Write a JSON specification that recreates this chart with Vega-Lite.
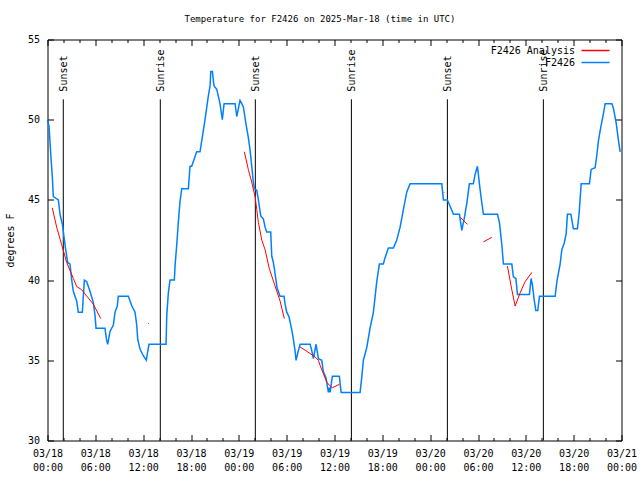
{
  "$schema": "https://vega.github.io/schema/vega-lite/v6.json",
  "width": 574,
  "height": 401,
  "autosize": "none",
  "padding": {"left": 47.5, "top": 39.5, "right": 18.5, "bottom": 39.5},
  "background": "white",
  "title": {"text": "Temperature for F2426 on 2025-Mar-18 (time in UTC)", "font": "DejaVu Sans Mono", "fontSize": 9, "fontWeight": "normal", "color": "black", "offset": 11, "dx": -14.5},
  "config": {
    "view": {"stroke": "black", "strokeWidth": 1},
    "axis": {"grid": false, "domain": false, "labelFont": "DejaVu Sans Mono", "labelFontSize": 10, "labelColor": "black", "tickColor": "black", "tickWidth": 1, "titleFont": "DejaVu Sans Mono", "titleFontSize": 10, "titleFontWeight": "normal", "titleColor": "black", "labelOverlap": false, "labelFlush": false, "labelBound": false}
  },
  "datasets": {
    "obs": [
      {"h":0,"t":50},{"h":0.19,"t":49.6},{"h":0.44,"t":47.6},{"h":0.6,"t":46.5},{"h":0.73,"t":45.2},{"h":1.36,"t":45},{"h":1.57,"t":44.1},{"h":1.86,"t":43.5},{"h":2.07,"t":42.7},{"h":2.28,"t":41.9},{"h":2.53,"t":41.1},{"h":2.82,"t":41},{"h":3.04,"t":40},{"h":3.24,"t":39.3},{"h":3.45,"t":39},{"h":3.66,"t":38.7},{"h":3.86,"t":38},{"h":4.37,"t":38},{"h":4.62,"t":40},{"h":4.92,"t":39.9},{"h":5.33,"t":39.3},{"h":5.75,"t":38.6},{"h":5.96,"t":37.8},{"h":6.09,"t":37},{"h":7.21,"t":37},{"h":7.4,"t":36.3},{"h":7.55,"t":36},{"h":7.84,"t":36.8},{"h":8.26,"t":37.2},{"h":8.47,"t":38},{"h":8.76,"t":38.4},{"h":8.88,"t":39},{"h":10.14,"t":39},{"h":10.57,"t":38.4},{"h":10.98,"t":38},{"h":11.19,"t":37.2},{"h":11.32,"t":36.3},{"h":11.6,"t":35.7},{"h":12.0,"t":35.3},{"h":12.4,"t":35},{"h":12.55,"t":35.5},{"h":12.73,"t":36},{"h":14.87,"t":36},{"h":14.96,"t":37.8},{"h":15.16,"t":39.2},{"h":15.37,"t":40},{"h":15.91,"t":40},{"h":16.0,"t":40.9},{"h":16.21,"t":42.2},{"h":16.41,"t":43.6},{"h":16.62,"t":44.9},{"h":16.84,"t":45.7},{"h":17.67,"t":45.7},{"h":17.88,"t":47.1},{"h":18.09,"t":47.1},{"h":18.51,"t":47.7},{"h":18.72,"t":48},{"h":19.13,"t":48},{"h":19.35,"t":48.7},{"h":19.76,"t":50},{"h":20.18,"t":51.5},{"h":20.39,"t":52.1},{"h":20.48,"t":53},{"h":20.68,"t":53},{"h":20.89,"t":52.1},{"h":21.23,"t":51.9},{"h":21.64,"t":51},{"h":21.93,"t":50},{"h":22.15,"t":51},{"h":23.53,"t":51},{"h":23.74,"t":50.2},{"h":24.15,"t":51.2},{"h":24.37,"t":51},{"h":24.57,"t":50.8},{"h":24.91,"t":49.7},{"h":25.19,"t":48.9},{"h":25.41,"t":48.1},{"h":25.62,"t":47.1},{"h":25.82,"t":46.1},{"h":25.95,"t":45.7},{"h":26.25,"t":45.6},{"h":26.45,"t":45},{"h":26.66,"t":44.3},{"h":26.75,"t":44},{"h":27.08,"t":43.8},{"h":27.29,"t":43.3},{"h":27.5,"t":43},{"h":28.0,"t":43},{"h":28.13,"t":41.5},{"h":28.33,"t":41.1},{"h":28.46,"t":40.7},{"h":28.8,"t":39.5},{"h":29.17,"t":39},{"h":29.67,"t":39},{"h":29.8,"t":38.5},{"h":30.01,"t":38},{"h":30.3,"t":37.7},{"h":30.64,"t":36.9},{"h":30.84,"t":36.3},{"h":31.05,"t":35.6},{"h":31.18,"t":35},{"h":31.47,"t":35.6},{"h":31.68,"t":36},{"h":32.94,"t":36},{"h":33.15,"t":35.6},{"h":33.35,"t":35.1},{"h":33.69,"t":36},{"h":33.98,"t":35.1},{"h":34.4,"t":35},{"h":34.6,"t":34.3},{"h":34.94,"t":33.9},{"h":35.23,"t":33},{"h":35.36,"t":33.3},{"h":35.45,"t":33},{"h":35.73,"t":34},{"h":36.61,"t":34},{"h":36.83,"t":33},{"h":39.21,"t":33},{"h":39.43,"t":34},{"h":39.62,"t":35},{"h":40.05,"t":35.8},{"h":40.46,"t":37},{"h":40.88,"t":38},{"h":41.3,"t":39.9},{"h":41.63,"t":41},{"h":42.13,"t":41},{"h":42.34,"t":41.4},{"h":42.76,"t":42},{"h":43.39,"t":42},{"h":43.81,"t":42.5},{"h":44.23,"t":43.3},{"h":44.64,"t":44.4},{"h":45.07,"t":45.5},{"h":45.48,"t":46},{"h":49.46,"t":46},{"h":49.66,"t":45},{"h":50.16,"t":45},{"h":50.5,"t":44.6},{"h":50.92,"t":44.1},{"h":51.67,"t":44.1},{"h":51.76,"t":43.8},{"h":51.97,"t":43.1},{"h":52.26,"t":43.8},{"h":52.6,"t":44.8},{"h":52.92,"t":46},{"h":53.42,"t":46},{"h":53.64,"t":46.6},{"h":53.93,"t":47.1},{"h":54.18,"t":46},{"h":54.35,"t":45.3},{"h":54.68,"t":44.1},{"h":56.44,"t":44.1},{"h":56.69,"t":43.6},{"h":56.99,"t":42.2},{"h":57.19,"t":41},{"h":58.24,"t":41},{"h":58.44,"t":40.2},{"h":58.75,"t":40.1},{"h":58.95,"t":39.1},{"h":60.45,"t":39.1},{"h":60.66,"t":40.1},{"h":60.83,"t":39.7},{"h":61.04,"t":38.8},{"h":61.25,"t":38.1},{"h":61.5,"t":38.1},{"h":61.71,"t":39},{"h":63.68,"t":39},{"h":63.89,"t":39.9},{"h":64.3,"t":41},{"h":64.52,"t":41.9},{"h":64.81,"t":42.3},{"h":65.06,"t":42.9},{"h":65.22,"t":44.1},{"h":65.65,"t":44.1},{"h":65.97,"t":43.2},{"h":66.47,"t":43.2},{"h":66.69,"t":44.2},{"h":66.94,"t":46},{"h":67.98,"t":46},{"h":68.19,"t":46.9},{"h":68.69,"t":47},{"h":68.91,"t":47.8},{"h":69.11,"t":48.7},{"h":69.32,"t":49.3},{"h":69.54,"t":49.9},{"h":69.74,"t":50.4},{"h":69.95,"t":51},{"h":70.79,"t":51},{"h":70.99,"t":50.7},{"h":71.33,"t":49.8},{"h":71.62,"t":48.7},{"h":71.83,"t":48}
    ],
    "ana": [
      {"seg":"a","h":0.6,"t":44.5},{"seg":"a","h":1.15,"t":43.3},{"seg":"a","h":1.78,"t":42.2},{"seg":"a","h":2.41,"t":41.1},{"seg":"a","h":3.24,"t":40.1},{"seg":"a","h":3.66,"t":39.6},{"seg":"a","h":4.29,"t":39.4},{"seg":"a","h":4.92,"t":39.0},{"seg":"a","h":5.75,"t":38.5},{"seg":"a","h":6.68,"t":37.6},
      {"seg":"b","h":12.62,"t":37.3},{"seg":"b","h":12.72,"t":37.3},
      {"seg":"c","h":24.69,"t":48},{"seg":"c","h":25.19,"t":46.9},{"seg":"c","h":25.62,"t":46.1},{"seg":"c","h":26.04,"t":45.2},{"seg":"c","h":26.25,"t":44.4},{"seg":"c","h":26.45,"t":43.6},{"seg":"c","h":26.88,"t":42.5},{"seg":"c","h":27.29,"t":41.9},{"seg":"c","h":27.83,"t":40.7},{"seg":"c","h":29.17,"t":38.7},{"seg":"c","h":29.71,"t":37.6},
      {"seg":"d","h":31.68,"t":35.83},{"seg":"d","h":32.31,"t":35.63},{"seg":"d","h":32.94,"t":35.42},{"seg":"d","h":33.56,"t":35.21},{"seg":"d","h":33.98,"t":35.0},{"seg":"d","h":34.19,"t":34.69},{"seg":"d","h":34.6,"t":34.17},{"seg":"d","h":35.03,"t":33.64},{"seg":"d","h":35.36,"t":33.44},{"seg":"d","h":35.73,"t":33.29},{"seg":"d","h":36.61,"t":33.5},
      {"seg":"e","h":49.66,"t":45.5},{"seg":"e","h":49.76,"t":45.45},
      {"seg":"f","h":51.76,"t":43.92},{"seg":"f","h":52.67,"t":43.48},
      {"seg":"g","h":54.68,"t":42.38},{"seg":"g","h":55.73,"t":42.67},
      {"seg":"h","h":57.69,"t":40.88},{"seg":"h","h":58.24,"t":39.4},{"seg":"h","h":58.66,"t":38.38},{"seg":"h","h":59.28,"t":39.2},{"seg":"h","h":59.91,"t":39.9},{"seg":"h","h":60.75,"t":40.48}
    ],
    "sun": [
      {"h":1.98,"label":"Sunset"},{"h":14.15,"label":"Sunrise"},{"h":26.07,"label":"Sunset"},{"h":38.12,"label":"Sunrise"},{"h":50.16,"label":"Sunset"},{"h":62.2,"label":"Sunrise"}
    ]
  },
  "layer": [
    {
      "data": {"name": "sun"},
      "mark": {"type": "rule", "color": "black", "strokeWidth": 1},
      "encoding": {
        "x": {"field": "h", "type": "quantitative", "scale": {"domain": [0, 72], "nice": false, "zero": false},
              "axis": {"orient": "top", "values": [0,6,12,18,24,30,36,42,48,54,60,66,72], "labels": false, "tickSize": -6, "title": null}},
        "y": {"datum": 51.27, "type": "quantitative", "scale": {"domain": [30, 55], "nice": false, "zero": false}, "axis": null},
        "y2": {"datum": 30}
      }
    },
    {
      "data": {"name": "sun"},
      "mark": {"type": "text", "angle": 270, "align": "left", "baseline": "middle", "dy": 1, "font": "DejaVu Sans Mono", "fontSize": 10, "color": "black"},
      "encoding": {
        "x": {"field": "h", "type": "quantitative",
              "axis": {"orient": "top", "values": [2,4,8,10,14,16,20,22,26,28,32,34,38,40,44,46,50,52,56,58,62,64,68,70], "labels": false, "tickSize": -3, "title": null}},
        "y": {"datum": 51.75, "type": "quantitative", "axis": null},
        "text": {"field": "label"}
      }
    },
    {
      "data": {"name": "obs"},
      "mark": {"type": "line", "strokeWidth": 1.5},
      "encoding": {
        "x": {"field": "h", "type": "quantitative",
              "axis": {"orient": "bottom", "values": [0,6,12,18,24,30,36,42,48,54,60,66,72], "tickSize": -6, "labelPadding": 14, "labelLineHeight": 14, "labelBaseline": "top", "title": null,
                       "labelExpr": "['03/' + (18 + floor(datum.value / 24)), (datum.value % 24 < 10 ? '0' : '') + (datum.value % 24) + ':00']"}},
        "y": {"field": "t", "type": "quantitative",
              "axis": {"orient": "left", "values": [30,35,40,45,50,55], "tickSize": -6, "labelPadding": 14, "title": "degrees F", "titlePadding": 12}},
        "color": {"datum": "F2426", "type": "nominal",
                  "scale": {"domain": ["F2426 Analysis", "F2426"], "range": ["#ff0000", "#0080ff"]},
                  "legend": {"title": null, "orient": "none", "legendX": 543, "legendY": 6, "symbolType": "M-4,0H4", "symbolSize": 49, "symbolStrokeWidth": 1.5, "labelAlign": "right", "labelOffset": -25.5, "labelFont": "DejaVu Sans Mono", "labelFontSize": 10, "labelColor": "black", "rowPadding": 2, "padding": 0}}
      }
    },
    {
      "data": {"name": "ana"},
      "mark": {"type": "line", "strokeWidth": 1},
      "encoding": {
        "x": {"field": "h", "type": "quantitative",
              "axis": {"orient": "bottom", "values": [2,4,8,10,14,16,20,22,26,28,32,34,38,40,44,46,50,52,56,58,62,64,68,70], "labels": false, "tickSize": -3, "title": null}},
        "y": {"field": "t", "type": "quantitative",
              "axis": {"orient": "right", "values": [30,35,40,45,50,55], "labels": false, "tickSize": -6, "title": null}},
        "detail": {"field": "seg"},
        "color": {"datum": "F2426 Analysis", "type": "nominal"}
      }
    }
  ],
  "resolve": {"axis": {"x": "independent", "y": "independent"}}
}
